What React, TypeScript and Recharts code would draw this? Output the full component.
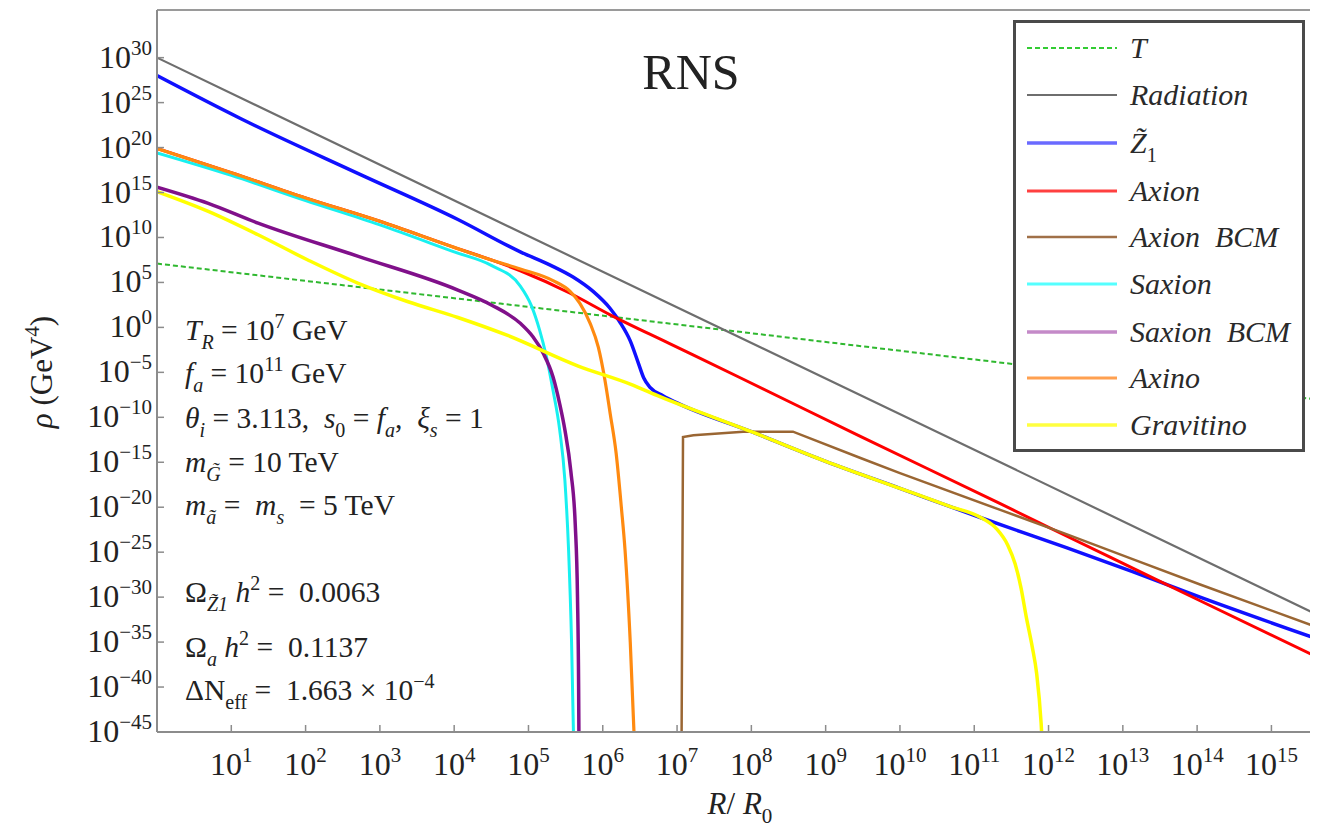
import React from 'react';
import { LineChart, Line, XAxis, YAxis, Legend, ReferenceLine, Customized } from 'recharts';

const SERIF = "'Liberation Serif', 'Times New Roman', serif";
const AXIS = '#8c8c8c';
const TXT = '#222';

// axes (values are log10 exponents)
const xTicks = [1, 2, 3, 4, 5, 6, 7, 8, 9, 10, 11, 12, 13, 14, 15];
const yTicks = [-45, -40, -35, -30, -25, -20, -15, -10, -5, 0, 5, 10, 15, 20, 25, 30];
const xDomain = [0, 15.6];
const yDomain = [-45, 35.3];

// series: [log10(R/R0), log10(rho)]
const tempPts = [[0, 7.1], [4.62, 2.65], [10.67, -3.25], [15.6, -8.0]];
const radiationPts = [[0, 30.0], [5.67, 7.5], [10.67, -12.3], [15.6, -31.9]];
const z1Pts = [[0, 28.0], [1.13, 23.2], [2.71, 17.1], [4.05, 12.0], [4.89, 8.4], [5.3, 6.9], [5.6, 5.6], [5.87, 4.0], [6.1, 2.1], [6.23, 0.6], [6.37, -1.5], [6.48, -4.0], [6.55, -5.6], [6.64, -6.7], [6.81, -7.6], [7.0, -8.4], [8.0, -11.6], [9.0, -14.9], [10.0, -17.9], [11.1, -21.2], [12.24, -24.5], [13.14, -27.2], [14.04, -30.0], [15.6, -34.6]];
const axionPts = [[0, 19.9], [1, 17.2], [2, 14.4], [3, 11.8], [4, 8.9], [4.5, 7.5], [4.89, 6.3], [5.56, 3.8], [6.1, 1.4], [6.9, -1.8], [7.85, -5.6], [9.46, -12.1], [11.35, -19.6], [12.24, -23.2], [13.14, -26.8], [14.04, -30.4], [15.6, -36.6]];
const axionBcmPts = [[7.06, -47], [7.08, -12.2], [7.22, -12.0], [7.89, -11.6], [8.56, -11.6], [9.46, -14.5], [10.0, -16.2], [11.35, -20.3], [12.24, -23.0], [13.14, -25.8], [14.04, -28.6], [15.6, -33.3]];
const saxionPts = [[0, 19.4], [1, 16.9], [2, 14.1], [3, 11.4], [4, 8.4], [4.5, 6.9], [4.89, 4.6], [5.04, 2.4], [5.15, -0.3], [5.24, -3.2], [5.33, -7.0], [5.42, -11.4], [5.49, -17], [5.54, -24.8], [5.58, -35], [5.61, -47]];
const saxionBcmPts = [[0, 15.6], [0.69, 13.8], [1.36, 11.6], [2.71, 7.9], [4.05, 4.15], [4.5, 2.5], [4.89, 0.45], [5.06, -1.05], [5.2, -2.9], [5.33, -5.5], [5.42, -8.5], [5.49, -11.4], [5.57, -16], [5.63, -22], [5.66, -30], [5.675, -40], [5.68, -47]];
const axinoPts = [[0, 19.9], [1, 17.2], [2, 14.4], [3, 11.8], [4, 8.9], [4.5, 7.5], [4.89, 6.5], [5.33, 5.2], [5.56, 4.0], [5.69, 2.7], [5.83, 0.45], [5.94, -2.2], [6.03, -5.9], [6.1, -9.6], [6.18, -14], [6.25, -20], [6.3, -24.8], [6.37, -35], [6.43, -47]];
const gravitinoPts = [[0, 15.1], [0.69, 12.9], [1.36, 10.3], [2.03, 7.5], [2.71, 4.9], [3.38, 2.85], [4.05, 1.1], [4.72, -0.9], [5.67, -4.3], [6.37, -6.3], [6.77, -7.7], [8.0, -11.6], [9.0, -14.9], [10.0, -17.9], [10.67, -19.9], [11.1, -21.2], [11.3, -22.4], [11.45, -24.2], [11.55, -26.3], [11.63, -29], [11.7, -32.2], [11.78, -35.5], [11.84, -38.5], [11.9, -44], [11.92, -47]];

const toPts = (arr: number[][]) => arr.map(([x, y]) => ({ x, y }));

type Seg = { t: string; s?: 'sub' | 'sup'; i?: boolean };

const series = [
  { key: 'T', data: tempPts, color: '#2fb82f', legendColor: '#33cc33', width: 2, dash: '5 3', type: 'linear', label: [{ t: 'T', i: true }] as Seg[] },
  { key: 'Radiation', data: radiationPts, color: '#6e6e6e', legendColor: '#6e6e6e', width: 2.2, type: 'linear', label: [{ t: 'Radiation', i: true }] as Seg[] },
  { key: 'Z1', data: z1Pts, color: '#1010ff', legendColor: '#6a6aff', width: 3.5, type: 'monotoneX', label: [{ t: 'Z\u0303', i: true }, { t: '1', s: 'sub' }] as Seg[] },
  { key: 'Axion', data: axionPts, color: '#ff0000', legendColor: '#ff4040', width: 3, type: 'monotoneX', label: [{ t: 'Axion', i: true }] as Seg[] },
  { key: 'Axion BCM', data: axionBcmPts, color: '#9a6633', legendColor: '#a07048', width: 2.5, type: 'linear', label: [{ t: 'Axion  BCM', i: true }] as Seg[] },
  { key: 'Saxion', data: saxionPts, color: '#18f0f0', legendColor: '#55ffff', width: 3, type: 'monotoneX', label: [{ t: 'Saxion', i: true }] as Seg[] },
  { key: 'Saxion BCM', data: saxionBcmPts, color: '#80108a', legendColor: '#c48ac8', width: 3.5, type: 'monotoneX', label: [{ t: 'Saxion  BCM', i: true }] as Seg[] },
  { key: 'Axino', data: axinoPts, color: '#ff8a10', legendColor: '#ffa050', width: 3.2, type: 'monotoneX', label: [{ t: 'Axino', i: true }] as Seg[] },
  { key: 'Gravitino', data: gravitinoPts, color: '#ffff00', legendColor: '#ffff40', width: 3.5, type: 'monotoneX', label: [{ t: 'Gravitino', i: true }] as Seg[] },
];

function rich(segs: Seg[], size: number) {
  let cur = 0;
  return segs.map((sg, idx) => {
    const target = sg.s === 'sub' ? size * 0.3 : sg.s === 'sup' ? -size * 0.42 : 0;
    const dy = target - cur;
    cur = target;
    return (
      <tspan key={idx} dy={dy} fontSize={sg.s ? size * 0.68 : size} fontStyle={sg.i ? 'italic' : 'normal'}>
        {sg.t}
      </tspan>
    );
  });
}

const expText = (v: number) => (v < 0 ? '\u2212' + Math.abs(v) : String(v));

const YTick = (props: any) => {
  const { x, y, payload } = props;
  return (
    <g>
      <line x1={x + 5} x2={x + 12} y1={y} y2={y} stroke={AXIS} strokeWidth={1.5} />
      <text x={x} y={y + 10} textAnchor="end" fontFamily={SERIF} fontSize={32} fill={TXT}>
        <tspan>10</tspan>
        <tspan dy={-13} fontSize={21}>{expText(payload.value)}</tspan>
      </text>
    </g>
  );
};

const XTick = (props: any) => {
  const { x, y, payload } = props;
  return (
    <g>
      <line x1={x} x2={x} y1={y} y2={y - 7} stroke={AXIS} strokeWidth={1.5} />
      <text x={x} y={y + 43} textAnchor="middle" fontFamily={SERIF} fontSize={32} fill={TXT}>
        <tspan>10</tspan>
        <tspan dy={-13} fontSize={21}>{expText(payload.value)}</tspan>
      </text>
    </g>
  );
};

const annotations: { y: number; segs: Seg[] }[] = [
  { y: 332, segs: [{ t: 'T', i: true }, { t: 'R', s: 'sub', i: true }, { t: ' = 10' }, { t: '7', s: 'sup' }, { t: ' GeV' }] },
  { y: 375, segs: [{ t: 'f', i: true }, { t: 'a', s: 'sub', i: true }, { t: ' = 10' }, { t: '11', s: 'sup' }, { t: ' GeV' }] },
  { y: 420, segs: [{ t: '\u03b8', i: true }, { t: 'i', s: 'sub', i: true }, { t: ' = 3.113,  ' }, { t: 's', i: true }, { t: '0', s: 'sub' }, { t: ' = ' }, { t: 'f', i: true }, { t: 'a', s: 'sub', i: true }, { t: ',  ' }, { t: '\u03be', i: true }, { t: 's', s: 'sub', i: true }, { t: ' = 1' }] },
  { y: 464, segs: [{ t: 'm', i: true }, { t: 'G\u0303', s: 'sub', i: true }, { t: ' = 10 TeV' }] },
  { y: 507, segs: [{ t: 'm', i: true }, { t: 'a\u0303', s: 'sub', i: true }, { t: ' =  ' }, { t: 'm', i: true }, { t: 's', s: 'sub', i: true }, { t: '  = 5 TeV' }] },
  { y: 594, segs: [{ t: '\u03a9' }, { t: 'Z\u03031', s: 'sub', i: true }, { t: ' ' }, { t: 'h', i: true }, { t: '2', s: 'sup' }, { t: ' =  0.0063' }] },
  { y: 649, segs: [{ t: '\u03a9' }, { t: 'a', s: 'sub', i: true }, { t: ' ' }, { t: 'h', i: true }, { t: '2', s: 'sup' }, { t: ' =  0.1137' }] },
  { y: 692, segs: [{ t: '\u0394N' }, { t: 'eff', s: 'sub' }, { t: ' =  1.663 \u00d7 10' }, { t: '\u22124', s: 'sup' }] },
];

const Overlay = () => (
  <g fill={TXT}>
    <text x={683} y={81} textAnchor="middle" fontSize={50} fontFamily={SERIF}>RNS</text>
    {annotations.map((a, i) => (
      <text key={i} x={177} y={a.y} fontSize={29.5} fontFamily={SERIF} style={{ whiteSpace: 'pre' }}>
        {rich(a.segs, 29.5)}
      </text>
    ))}
    <text x={732} y={806} textAnchor="middle" fontSize={31} fontFamily={SERIF} style={{ whiteSpace: 'pre' }}>
      {rich([{ t: 'R', i: true }, { t: '/ ' }, { t: 'R', i: true }, { t: '0', s: 'sub' }], 31)}
    </text>
    <text x={0} y={0} transform="translate(44 364) rotate(-90)" textAnchor="middle" fontSize={31} fontFamily={SERIF} style={{ whiteSpace: 'pre' }}>
      {rich([{ t: '\u03c1', i: true }, { t: ' (GeV' }, { t: '4', s: 'sup' }, { t: ')' }], 31)}
    </text>
  </g>
);

const LEG_W = 292;
const LEG_H = 432;
const legendRows = [28, 75, 123, 171, 217, 264, 312, 358, 405];

const LegendBox = () => (
  <div style={{ width: LEG_W, height: LEG_H, boxSizing: 'border-box', border: '3px solid #4a4a4a', background: '#fff' }}>
    <svg width={LEG_W - 6} height={LEG_H - 6} style={{ display: 'block' }}>
      {series.map((s, i) => {
        const cy = legendRows[i] - 3;
        return (
          <g key={s.key}>
            <line x1={11} x2={101} y1={cy} y2={cy} stroke={s.legendColor} strokeWidth={s.width} strokeDasharray={s.dash} />
            <text x={114} y={cy + 10} fontSize={30} fill="#2a2a2a" fontFamily={SERIF} style={{ whiteSpace: 'pre' }}>
              {rich(s.label, 30)}
            </text>
          </g>
        );
      })}
    </svg>
  </div>
);

export default function App() {
  return (
    <div style={{ width: 1310, height: 823, fontFamily: SERIF }}>
      <LineChart width={1310} height={823} margin={{ top: 2, right: 2, left: 0, bottom: 0 }}>
        <XAxis
          type="number"
          dataKey="x"
          domain={xDomain}
          ticks={xTicks}
          interval={0}
          allowDataOverflow
          height={99}
          tickSize={0}
          tickMargin={0}
          tick={<XTick />}
          axisLine={{ stroke: AXIS, strokeWidth: 2 }}
          tickLine={false}
        />
        <YAxis
          type="number"
          domain={yDomain}
          ticks={yTicks}
          interval={0}
          allowDataOverflow
          width={149}
          tickSize={0}
          tickMargin={5}
          tick={<YTick />}
          axisLine={{ stroke: AXIS, strokeWidth: 2 }}
          tickLine={false}
        />
        <ReferenceLine y={yDomain[1]} stroke="#9a9a9a" strokeWidth={2} />
        {series.map((s) => (
          <Line
            key={s.key}
            name={s.key}
            data={toPts(s.data)}
            dataKey="y"
            type={s.type as any}
            stroke={s.color}
            strokeWidth={s.width}
            strokeDasharray={s.dash}
            dot={false}
            activeDot={false}
            isAnimationActive={false}
          />
        ))}
        <Customized component={Overlay} />
        <Legend
          layout="vertical"
          align="center"
          verticalAlign="middle"
          wrapperStyle={{ left: 1005, top: 12, width: LEG_W, height: LEG_H }}
          content={<LegendBox />}
        />
      </LineChart>
    </div>
  );
}
